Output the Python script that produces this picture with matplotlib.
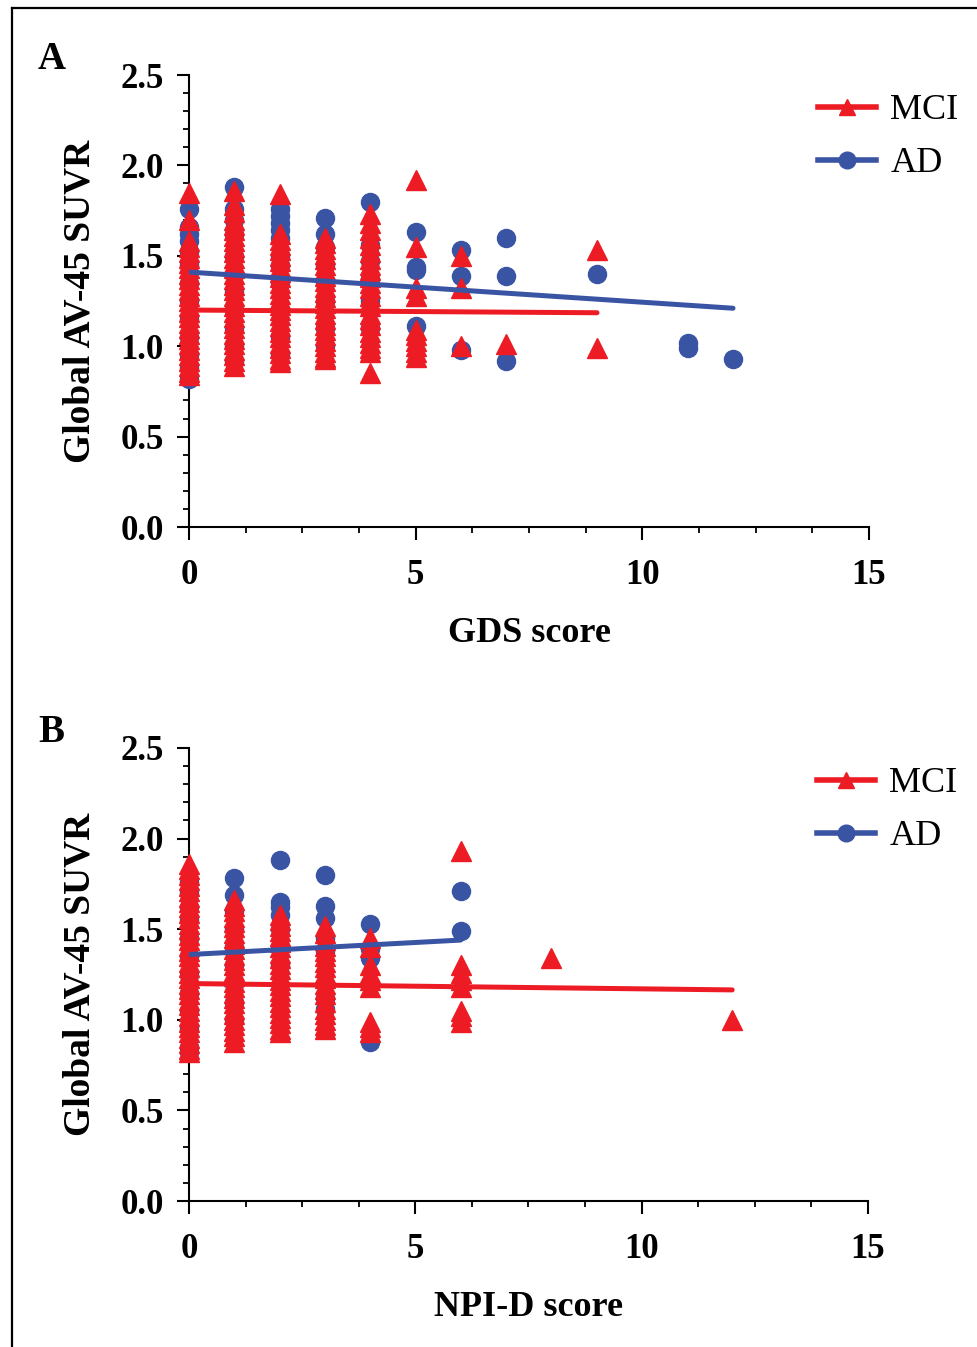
import matplotlib
matplotlib.use("Agg")
import matplotlib.pyplot as plt
from matplotlib.lines import Line2D
from matplotlib.ticker import MultipleLocator, FormatStrFormatter

# colours
RED = '#ED1C24'
BLUE = '#3A54A4'

# ---- panel A: GDS score ----
# values per GDS column
gds_mci = {
    0: [1.85, 1.70, 1.58, 1.55, 1.52, 1.49, 1.46, 1.43, 1.40, 1.37, 1.34, 1.31, 1.28,
        1.25, 1.22, 1.19, 1.16, 1.13, 1.10, 1.07, 1.04, 1.01, 0.98, 0.95, 0.92, 0.89,
        0.86, 0.84],
    1: [1.86, 1.78, 1.74, 1.70, 1.67, 1.64, 1.61, 1.58, 1.55, 1.52, 1.49, 1.46, 1.43,
        1.40, 1.37, 1.34, 1.31, 1.28, 1.25, 1.22, 1.19, 1.16, 1.13, 1.10, 1.07, 1.04,
        1.01, 0.98, 0.95, 0.92, 0.89],
    2: [1.84, 1.62, 1.59, 1.56, 1.53, 1.50, 1.47, 1.44, 1.41, 1.38, 1.35, 1.32, 1.29,
        1.26, 1.23, 1.20, 1.17, 1.14, 1.11, 1.08, 1.05, 1.02, 0.99, 0.96, 0.93, 0.91],
    3: [1.60, 1.57, 1.54, 1.51, 1.48, 1.45, 1.42, 1.39, 1.36, 1.33, 1.30, 1.27, 1.24,
        1.21, 1.18, 1.15, 1.12, 1.09, 1.06, 1.03, 1.00, 0.97, 0.94, 0.93],
    4: [1.73, 1.68, 1.64, 1.60, 1.56, 1.52, 1.48, 1.45, 1.42, 1.38, 1.35, 1.32, 1.28,
        1.25, 1.22, 1.18, 1.15, 1.12, 1.08, 1.05, 1.02, 0.99, 0.97, 0.85],
    5: [1.92, 1.55, 1.32, 1.28, 1.09, 1.06, 1.03, 1.00, 0.97, 0.94],
    6: [1.50, 1.32, 1.00],
    7: [1.01],
    9: [1.53, 0.99],
}
gds_ad = {
    0: [1.76, 1.66, 1.62, 1.58, 1.52, 1.45, 1.35, 1.25, 1.15, 1.05, 0.95, 0.88, 0.82],
    1: [1.88, 1.76, 1.70, 1.62, 1.50, 1.40, 1.30, 1.20, 1.10, 1.00, 0.92],
    2: [1.76, 1.72, 1.68, 1.64, 1.60, 1.50, 1.45, 1.35, 1.20, 1.05, 0.95],
    3: [1.71, 1.62, 1.55, 1.45, 1.35, 1.25, 1.10, 1.00],
    4: [1.80, 1.56, 1.47, 1.37, 1.25, 1.10],
    5: [1.63, 1.44, 1.42, 1.11],
    6: [1.53, 1.39, 0.98],
    7: [1.60, 1.39, 0.92],
    9: [1.40],
    11: [1.02, 0.99],
    12: [0.93],
}
gds_fit_mci = ([0, 9], [1.20, 1.185])
gds_fit_ad = ([0, 12], [1.41, 1.21])

# ---- panel B: NPI-D score ----
npi_mci = {
    0: [1.86, 1.83, 1.80, 1.77, 1.74, 1.71, 1.68, 1.65, 1.62, 1.59, 1.56, 1.53, 1.50,
        1.47, 1.44, 1.41, 1.38, 1.35, 1.32, 1.29, 1.26, 1.23, 1.20, 1.17, 1.14, 1.11,
        1.08, 1.05, 1.02, 0.99, 0.96, 0.93, 0.90, 0.87, 0.84, 0.82],
    1: [1.66, 1.63, 1.60, 1.57, 1.54, 1.51, 1.48, 1.45, 1.42, 1.39, 1.36, 1.33, 1.30,
        1.27, 1.24, 1.21, 1.18, 1.15, 1.12, 1.09, 1.06, 1.03, 1.00, 0.97, 0.94, 0.91,
        0.88],
    2: [1.58, 1.55, 1.52, 1.49, 1.46, 1.43, 1.40, 1.37, 1.34, 1.31, 1.28, 1.25, 1.22,
        1.19, 1.16, 1.13, 1.10, 1.07, 1.04, 1.01, 0.98, 0.95, 0.93],
    3: [1.52, 1.48, 1.44, 1.41, 1.38, 1.35, 1.32, 1.29, 1.26, 1.23, 1.20, 1.17, 1.14,
        1.10, 1.06, 1.03, 1.00, 0.97, 0.95],
    4: [1.45, 1.40, 1.30, 1.26, 1.22, 1.18, 0.99, 0.96, 0.93],
    6: [1.93, 1.30, 1.26, 1.22, 1.18, 1.05, 1.02, 0.99],
    8: [1.34],
    12: [1.00],
}
npi_ad = {
    0: [1.76, 1.70, 1.62, 1.55, 1.45, 1.35, 1.25, 1.15, 1.05, 0.95, 0.85, 0.82],
    1: [1.78, 1.69, 1.60, 1.50, 1.40, 1.30, 1.20, 1.10, 1.00],
    2: [1.88, 1.65, 1.62, 1.58, 1.50, 1.40, 1.30],
    3: [1.80, 1.63, 1.56, 1.45, 1.38, 1.12, 1.06],
    4: [1.53, 1.39, 1.34, 0.88],
    6: [1.71, 1.49],
}
npi_fit_mci = ([0, 12], [1.20, 1.165])
npi_fit_ad = ([0, 6], [1.36, 1.44])

plt.rcParams['font.family'] = ['Liberation Serif', 'DejaVu Serif']

fig = plt.figure(figsize=(9.78, 13.47), dpi=100)

# thin frame around the figure, open to the right and bottom
fig.add_artist(Line2D([12 / 978, 1.0], [1 - 8 / 1347, 1 - 8 / 1347],
                      transform=fig.transFigure, color='black', lw=1.6))
fig.add_artist(Line2D([12 / 978, 12 / 978], [0.0, 1 - 8 / 1347],
                      transform=fig.transFigure, color='black', lw=1.6))


def flatten(cols):
    xs, ys = [], []
    for k, vals in cols.items():
        xs += [k] * len(vals)
        ys += vals
    return xs, ys


def draw_panel(ax, mci, ad, fit_mci, fit_ad, xlabel, letter):
    adx, ady = flatten(ad)
    mx, my = flatten(mci)
    ax.plot(adx, ady, linestyle='none', marker='o', ms=13, color=BLUE,
            clip_on=False, zorder=3)
    ax.plot(mx, my, linestyle='none', marker='^', ms=14, color=RED,
            clip_on=False, zorder=4)
    ax.plot(fit_mci[0], fit_mci[1], color=RED, lw=3.6, solid_capstyle='round', zorder=5)
    ax.plot(fit_ad[0], fit_ad[1], color=BLUE, lw=3.6, solid_capstyle='round', zorder=5)

    ax.set_xlim(0, 15)
    ax.set_ylim(0, 2.5)
    ax.xaxis.set_major_locator(MultipleLocator(5))
    ax.xaxis.set_minor_locator(MultipleLocator(1.25))
    ax.yaxis.set_major_locator(MultipleLocator(0.5))
    ax.yaxis.set_minor_locator(MultipleLocator(0.1))
    ax.yaxis.set_major_formatter(FormatStrFormatter('%.1f'))
    for s in ['top', 'right']:
        ax.spines[s].set_visible(False)
    for s in ['left', 'bottom']:
        ax.spines[s].set_linewidth(1.5)
    ax.tick_params(which='major', direction='out', length=9, width=1.5,
                   labelsize=25)
    ax.tick_params(which='minor', direction='out', length=4.5, width=1.3)
    ax.tick_params(axis='x', which='major', pad=14)
    ax.tick_params(axis='y', which='major', pad=9)
    for lab in ax.get_xticklabels() + ax.get_yticklabels():
        lab.set_fontweight('bold')

    ax.set_xlabel(xlabel, fontsize=26, fontweight='bold', labelpad=18)
    ax.set_ylabel('Global AV-45 SUVR', fontsize=27, fontweight='bold', labelpad=17)
    ax.text(-0.222, 1.075, letter, transform=ax.transAxes, fontsize=28,
            fontweight='bold', ha='left', va='top')

    handles = [Line2D([], [], color=RED, lw=4, marker='^', ms=12),
               Line2D([], [], color=BLUE, lw=4, marker='o', ms=12)]
    ax.legend(handles, ['MCI', 'AD'], loc='upper left',
              bbox_to_anchor=(0.925, 0.958), frameon=False, fontsize=26,
              handlelength=1.6, handletextpad=0.4, labelspacing=0.55,
              borderpad=0, borderaxespad=0)


ax_a = fig.add_axes([189 / 978, 1 - 527 / 1347, 680 / 978, 452 / 1347])
draw_panel(ax_a, gds_mci, gds_ad, gds_fit_mci, gds_fit_ad, 'GDS score', 'A')

ax_b = fig.add_axes([189 / 978, 1 - 1201 / 1347, 679 / 978, 453 / 1347])
draw_panel(ax_b, npi_mci, npi_ad, npi_fit_mci, npi_fit_ad, 'NPI-D score', 'B')

fig.savefig('out.png', dpi=100)
